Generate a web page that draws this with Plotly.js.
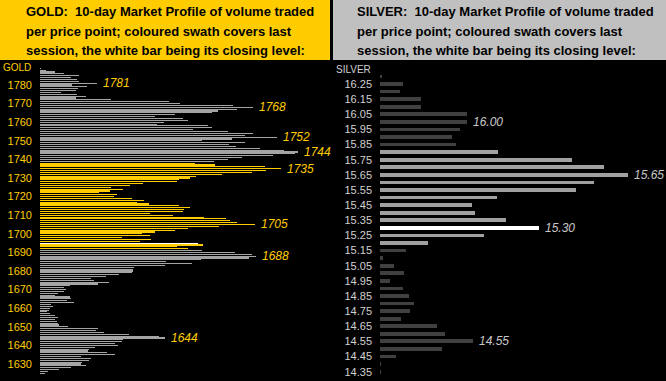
<!DOCTYPE html>
<html>
<head>
<meta charset="utf-8">
<script src="https://cdn.plot.ly/plotly-3.0.1.min.js"></script>
<style>
html,body{margin:0;padding:0;background:#000;}
#chart{width:666px;height:381px;}
</style>
</head>
<body>
<div id="chart"></div>
<script>
// ---------------- DATA ----------------
const goldPrices = [1789,1788,1787,1786,1785,1784,1783,1782,1781,1780,
1779,1778,1777,1776,1775,1774,1773,1772,1771,1770,
1769,1768,1767,1766,1765,1764,1763,1762,1761,1760,
1759,1758,1757,1756,1755,1754,1753,1752,1751,1750,
1749,1748,1747,1746,1745,1744,1743,1742,1741,1740,
1739,1738,1737,1736,1735,1734,1733,1732,1731,1730,
1729,1728,1727,1726,1725,1724,1723,1722,1721,1720,
1719,1718,1717,1716,1715,1714,1713,1712,1711,1710,
1709,1708,1707,1706,1705,1704,1703,1702,1701,1700,
1699,1698,1697,1696,1695,1694,1693,1692,1691,1690,
1689,1688,1687,1686,1685,1684,1683,1682,1681,1680,
1679,1678,1677,1676,1675,1674,1673,1672,1671,1670,
1669,1668,1667,1666,1665,1664,1663,1662,1661,1660,
1659,1658,1657,1656,1655,1654,1653,1652,1651,1650,
1649,1648,1647,1646,1645,1644,1643,1642,1641,1640,
1639,1638,1637,1636,1635,1634,1633,1632,1631,1630,
1629,1628,1627,1626,1625];
const goldVolumes = [1,6,15,24,39,31,37,39,57,32,
47,38,36,21,37,46,36,71,129,140,
193,213,197,178,172,135,115,143,148,124,
117,168,172,153,188,213,205,237,192,162,
205,189,196,220,244,258,255,233,202,188,
174,155,175,225,241,226,212,182,156,150,
139,137,103,90,71,83,70,59,77,74,
92,104,97,109,139,150,144,143,110,133,
164,186,190,197,215,179,148,135,115,102,
110,82,111,100,158,163,137,148,162,195,
212,216,209,161,126,152,125,94,93,93,
92,79,66,51,54,69,58,30,24,26,
24,18,15,30,31,27,34,11,13,10,
9,7,10,15,18,15,17,18,19,28,
58,56,64,89,119,125,83,82,75,78,
55,49,48,67,75,41,51,49,42,41,
46,31,19,8,5];
const goldSession = [1692, 1738];   // last session low / high
const goldClose = 1695;
const goldTicks = [1630,1640,1650,1660,1670,1680,1690,1700,1710,1720,1730,1740,1750,1760,1770,1780];
const goldPeakLabels = [1781,1768,1752,1744,1735,1705,1688,1644];

const silverPrices = [16.30,16.25,16.20,16.15,16.10,16.05,16.00,15.95,15.90,15.85,
15.80,15.75,15.70,15.65,15.60,15.55,15.50,15.45,15.40,15.35,
15.30,15.25,15.20,15.15,15.10,15.05,15.00,14.95,14.90,14.85,
14.80,14.75,14.70,14.65,14.60,14.55,14.50,14.45,14.40,14.35];
const silverVolumes = [2,23,20,41,41,87,87,80,72,76,
118,192,224,248,214,196,117,92,95,126,
159,104,48,26,3,14,24,10,23,29,
34,30,21,57,65,93,62,16,1,1];
const silverSession = [15.20, 15.80];
const silverClose = 15.30;
const silverTicks = [16.25,16.15,16.05,15.95,15.85,15.75,15.65,15.55,15.45,15.35,15.25,15.15,15.05,14.95,14.85,14.75,14.65,14.55,14.45,14.35];
const silverTickLabels = ["16.25","16.15","16.05","15.95","15.85","15.75","15.65","15.55","15.45","15.35","15.25","15.15","15.05","14.95","14.85","14.75","14.65","14.55","14.45","14.35"];
const silverPeakLabels = ["16.00","15.65","15.30","14.55"];

const goldTitle = ["GOLD:\u00a0 10-day Market Profile of volume traded","per price point; coloured swath covers last","session, the white bar being its closing level:"];
const silverTitle = ["SILVER:\u00a0 10-day Market Profile of volume traded","per price point; coloured swath covers last","session, the white bar being its closing level:"];

// ---------------- STYLE ----------------
const W = 666, H = 381;
const FONT = "Arial, 'Liberation Sans', sans-serif";
const YEL = "#FFCC00";
const px = x => x / W;
const py = y => 1 - y / H;

const goldColors = goldPrices.map(p => p === goldClose ? "#ffffff" :
  (p >= goldSession[0] && p <= goldSession[1] ? YEL : "#a4a4a4"));
const silverColors = silverPrices.map(p => Math.abs(p - silverClose) < 1e-6 ? "#ffffff" :
  (p >= silverSession[0] - 1e-6 && p <= silverSession[1] + 1e-6 ? "#a0a0a0" : "#404040"));

const traces = [
  {type:"bar", orientation:"h", x:goldVolumes, y:goldPrices, width:0.6,
   marker:{color:goldColors, line:{width:0}}, xaxis:"x", yaxis:"y", hoverinfo:"skip"},
  {type:"bar", orientation:"h", x:silverVolumes, y:silverPrices, width:0.025,
   marker:{color:silverColors, line:{width:0}}, xaxis:"x2", yaxis:"y2", hoverinfo:"skip"}
];

const annotations = [];
// titles
const titleY = [11.5, 31, 50.5];
goldTitle.forEach((t, i) => annotations.push({xref:"paper", yref:"paper", x:px(24), y:py(titleY[i]),
  xanchor:"left", yanchor:"middle", text:t, showarrow:false,
  font:{family:FONT, size:13, color:"#000", weight:"bold"}}));
silverTitle.forEach((t, i) => annotations.push({xref:"paper", yref:"paper", x:px(355), y:py(titleY[i]),
  xanchor:"left", yanchor:"middle", text:t, showarrow:false,
  font:{family:FONT, size:13, color:"#000", weight:"bold"}}));
// axis captions
annotations.push({xref:"paper", yref:"paper", x:px(1), y:py(67), xanchor:"left", yanchor:"middle",
  text:"GOLD", showarrow:false, font:{family:FONT, size:10, color:YEL}});
annotations.push({xref:"paper", yref:"paper", x:px(334), y:py(70), xanchor:"left", yanchor:"middle",
  text:"SILVER", showarrow:false, font:{family:FONT, size:10, color:"#d0d0d0"}});
// peak labels
goldPeakLabels.forEach(p => {
  const v = goldVolumes[goldPrices.indexOf(p)];
  annotations.push({xref:"x", yref:"y", x:v, y:p, xanchor:"left", yanchor:"middle", xshift:4,
    text:String(p), showarrow:false, font:{family:FONT, size:12, color:YEL, style:"italic"}});
});
silverPeakLabels.forEach(s => {
  const p = parseFloat(s);
  const v = silverVolumes[silverPrices.findIndex(q => Math.abs(q - p) < 1e-6)];
  annotations.push({xref:"x2", yref:"y2", x:v, y:p, xanchor:"left", yanchor:"middle", xshift:4,
    text:s, showarrow:false, font:{family:FONT, size:12, color:"#c8c8c8", style:"italic"}});
});

const yTop = 1 - 60 / H;
const layout = {
  width:W, height:H, margin:{l:0, r:0, t:0, b:0, pad:0},
  paper_bgcolor:"#000", plot_bgcolor:"#000", showlegend:false, bargap:0,
  xaxis:{domain:[px(40), px(330)], range:[0,290], visible:false, fixedrange:true},
  yaxis:{domain:[0, yTop], range:[1620.86, 1793.44], tickvals:goldTicks, ticks:"",
    showgrid:false, zeroline:false, showline:false, ticklabelstandoff:7,
    tickfont:{family:FONT, size:11, color:YEL}, fixedrange:true},
  xaxis2:{domain:[px(380), px(660)], range:[0,280], visible:false, anchor:"y2", fixedrange:true},
  yaxis2:{domain:[0, yTop], range:[14.2883, 16.4085], anchor:"x2", tickvals:silverTicks, ticktext:silverTickLabels,
    ticks:"", showgrid:false, zeroline:false, showline:false, ticklabelstandoff:7,
    tickfont:{family:FONT, size:11, color:"#d0d0d0"}, fixedrange:true},
  shapes:[
    {type:"rect", xref:"paper", yref:"paper", x0:0, x1:px(330), y0:yTop, y1:1, fillcolor:YEL, line:{width:0}, layer:"below"},
    {type:"rect", xref:"paper", yref:"paper", x0:px(333), x1:1, y0:yTop, y1:1, fillcolor:"#C0C0C0", line:{width:0}, layer:"below"}
  ],
  annotations:annotations
};

Plotly.newPlot("chart", traces, layout, {staticPlot:true, displayModeBar:false});
</script>
</body>
</html>
